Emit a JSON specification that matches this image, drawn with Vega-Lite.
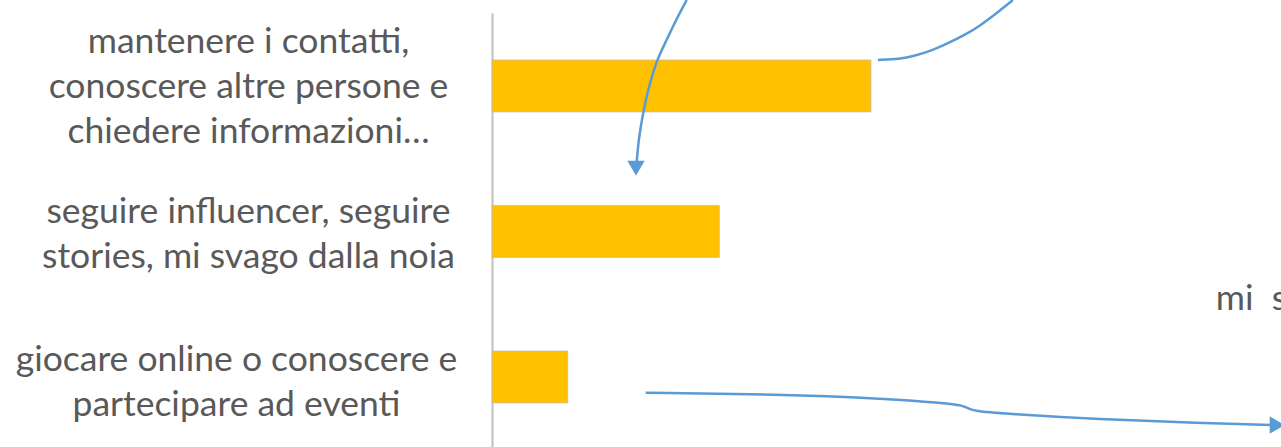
{
  "$schema": "https://vega.github.io/schema/vega-lite/v6.json",
  "autosize": {"type": "none"},
  "padding": {"left": 492, "top": 13, "right": 0, "bottom": 0},
  "width": 789,
  "height": 434,
  "background": "white",
  "config": {"view": {"stroke": null}, "font": "Lato"},
  "datasets": {
    "bars": [
      {"label": "mantenere i contatti,\nconoscere altre persone e\nchiedere informazioni…", "value": 5},
      {"label": "seguire influencer, seguire\nstories, mi svago dalla noia", "value": 3},
      {"label": "giocare online o conoscere e\npartecipare ad eventi", "value": 1}
    ],
    "curves": [
      {"curve": "A", "ord": 1, "pos": 2.569, "row": -0.591},
      {"curve": "A", "ord": 2, "pos": 2.427, "row": -0.454},
      {"curve": "A", "ord": 3, "pos": 2.305, "row": -0.316},
      {"curve": "A", "ord": 4, "pos": 2.173, "row": -0.179},
      {"curve": "A", "ord": 5, "pos": 2.058, "row": 0.027},
      {"curve": "A", "ord": 6, "pos": 1.992, "row": 0.186},
      {"curve": "A", "ord": 7, "pos": 1.933, "row": 0.371},
      {"curve": "A", "ord": 8, "pos": 1.906, "row": 0.543},
      {"curve": "B", "ord": 1, "pos": 5.092, "row": -0.179},
      {"curve": "B", "ord": 2, "pos": 5.383, "row": -0.186},
      {"curve": "B", "ord": 3, "pos": 5.554, "row": -0.203},
      {"curve": "B", "ord": 4, "pos": 5.818, "row": -0.247},
      {"curve": "B", "ord": 5, "pos": 6.003, "row": -0.290},
      {"curve": "B", "ord": 6, "pos": 6.266, "row": -0.358},
      {"curve": "B", "ord": 7, "pos": 6.438, "row": -0.415},
      {"curve": "B", "ord": 8, "pos": 6.610, "row": -0.480},
      {"curve": "B", "ord": 9, "pos": 6.873, "row": -0.591},
      {"curve": "C", "ord": 1, "pos": 2.028, "row": 2.108},
      {"curve": "C", "ord": 2, "pos": 3.799, "row": 2.119},
      {"curve": "C", "ord": 3, "pos": 5.119, "row": 2.146},
      {"curve": "C", "ord": 4, "pos": 5.999, "row": 2.179},
      {"curve": "C", "ord": 5, "pos": 6.214, "row": 2.196},
      {"curve": "C", "ord": 6, "pos": 6.280, "row": 2.216},
      {"curve": "C", "ord": 7, "pos": 6.372, "row": 2.234},
      {"curve": "C", "ord": 8, "pos": 6.702, "row": 2.250},
      {"curve": "C", "ord": 9, "pos": 8.021, "row": 2.291},
      {"curve": "C", "ord": 10, "pos": 9.340, "row": 2.316},
      {"curve": "C", "ord": 11, "pos": 10.330, "row": 2.330}
    ],
    "heads": [
      {"curve": "A", "pos": 1.90, "row": 0.565},
      {"curve": "C", "pos": 10.36, "row": 2.330}
    ],
    "notes": [
      {"text": "mi\u00a0\u00a0s", "pos": 9.55, "row": 1.54}
    ]
  },
  "layer": [
    {
      "data": {"name": "bars"},
      "mark": {"type": "bar", "color": "#FFC000", "stroke": "#BFBFBF", "strokeWidth": 0.75},
      "encoding": {
        "y": {
          "field": "label", "type": "nominal", "sort": null,
          "scale": {"paddingInner": 0.6426, "paddingOuter": 0.3127, "align": 0.516},
          "axis": {
            "title": null, "ticks": false, "grid": false,
            "domainColor": "#BFBFBF", "domainWidth": 2,
            "labelAlign": "center",
            "labelPadding": {"condition": {"test": "indexof(datum.value, 'giocare') >= 0", "value": 256}, "value": 244},
            "labelOffset": {"condition": [
              {"test": "indexof(datum.value, 'mantenere') >= 0", "value": -44},
              {"test": "indexof(datum.value, 'seguire') >= 0", "value": -19}
            ], "value": -17},
            "labelFont": "Lato", "labelFontSize": 35.5, "labelColor": "#595959",
            "labelLineHeight": 45, "labelLimit": 0,
            "labelExpr": "split(datum.label, '\\n')"
          }
        },
        "x": {"field": "value", "type": "quantitative", "scale": {"domain": [0, 10.41], "nice": false, "zero": true}, "axis": null}
      }
    },
    {
      "layer": [
        {
          "data": {"name": "curves"},
          "mark": {"type": "line", "color": "#5B9BD5", "strokeWidth": 2.5, "interpolate": "basis"},
          "encoding": {
            "x": {"field": "pos", "type": "quantitative", "scale": {"domain": [0, 10.41], "nice": false}, "axis": null},
            "y": {"field": "row", "type": "quantitative", "scale": {"domain": [-0.5017, 2.481], "reverse": true, "nice": false, "zero": false}, "axis": null},
            "detail": {"field": "curve", "type": "nominal"},
            "order": {"field": "ord", "type": "quantitative"}
          }
        },
        {
          "data": {"name": "heads"},
          "transform": [{"filter": "datum.curve == 'A'"}],
          "mark": {"type": "point", "shape": "triangle-down", "filled": true, "color": "#5B9BD5", "opacity": 1, "size": 300},
          "encoding": {
            "x": {"field": "pos", "type": "quantitative", "scale": {"domain": [0, 10.41], "nice": false}, "axis": null},
            "y": {"field": "row", "type": "quantitative", "scale": {"domain": [-0.5017, 2.481], "reverse": true, "nice": false, "zero": false}, "axis": null}
          }
        },
        {
          "data": {"name": "heads"},
          "transform": [{"filter": "datum.curve == 'C'"}],
          "mark": {"type": "point", "shape": "triangle-right", "filled": true, "color": "#5B9BD5", "opacity": 1, "size": 300},
          "encoding": {
            "x": {"field": "pos", "type": "quantitative", "scale": {"domain": [0, 10.41], "nice": false}, "axis": null},
            "y": {"field": "row", "type": "quantitative", "scale": {"domain": [-0.5017, 2.481], "reverse": true, "nice": false, "zero": false}, "axis": null}
          }
        },
        {
          "data": {"name": "notes"},
          "mark": {"type": "text", "align": "left", "baseline": "alphabetic", "font": "Lato", "fontSize": 35.5, "color": "#595959"},
          "encoding": {
            "x": {"field": "pos", "type": "quantitative", "scale": {"domain": [0, 10.41], "nice": false}, "axis": null},
            "y": {"field": "row", "type": "quantitative", "scale": {"domain": [-0.5017, 2.481], "reverse": true, "nice": false, "zero": false}, "axis": null},
            "text": {"field": "text", "type": "nominal"}
          }
        }
      ]
    }
  ],
  "resolve": {"scale": {"y": "independent"}}
}
